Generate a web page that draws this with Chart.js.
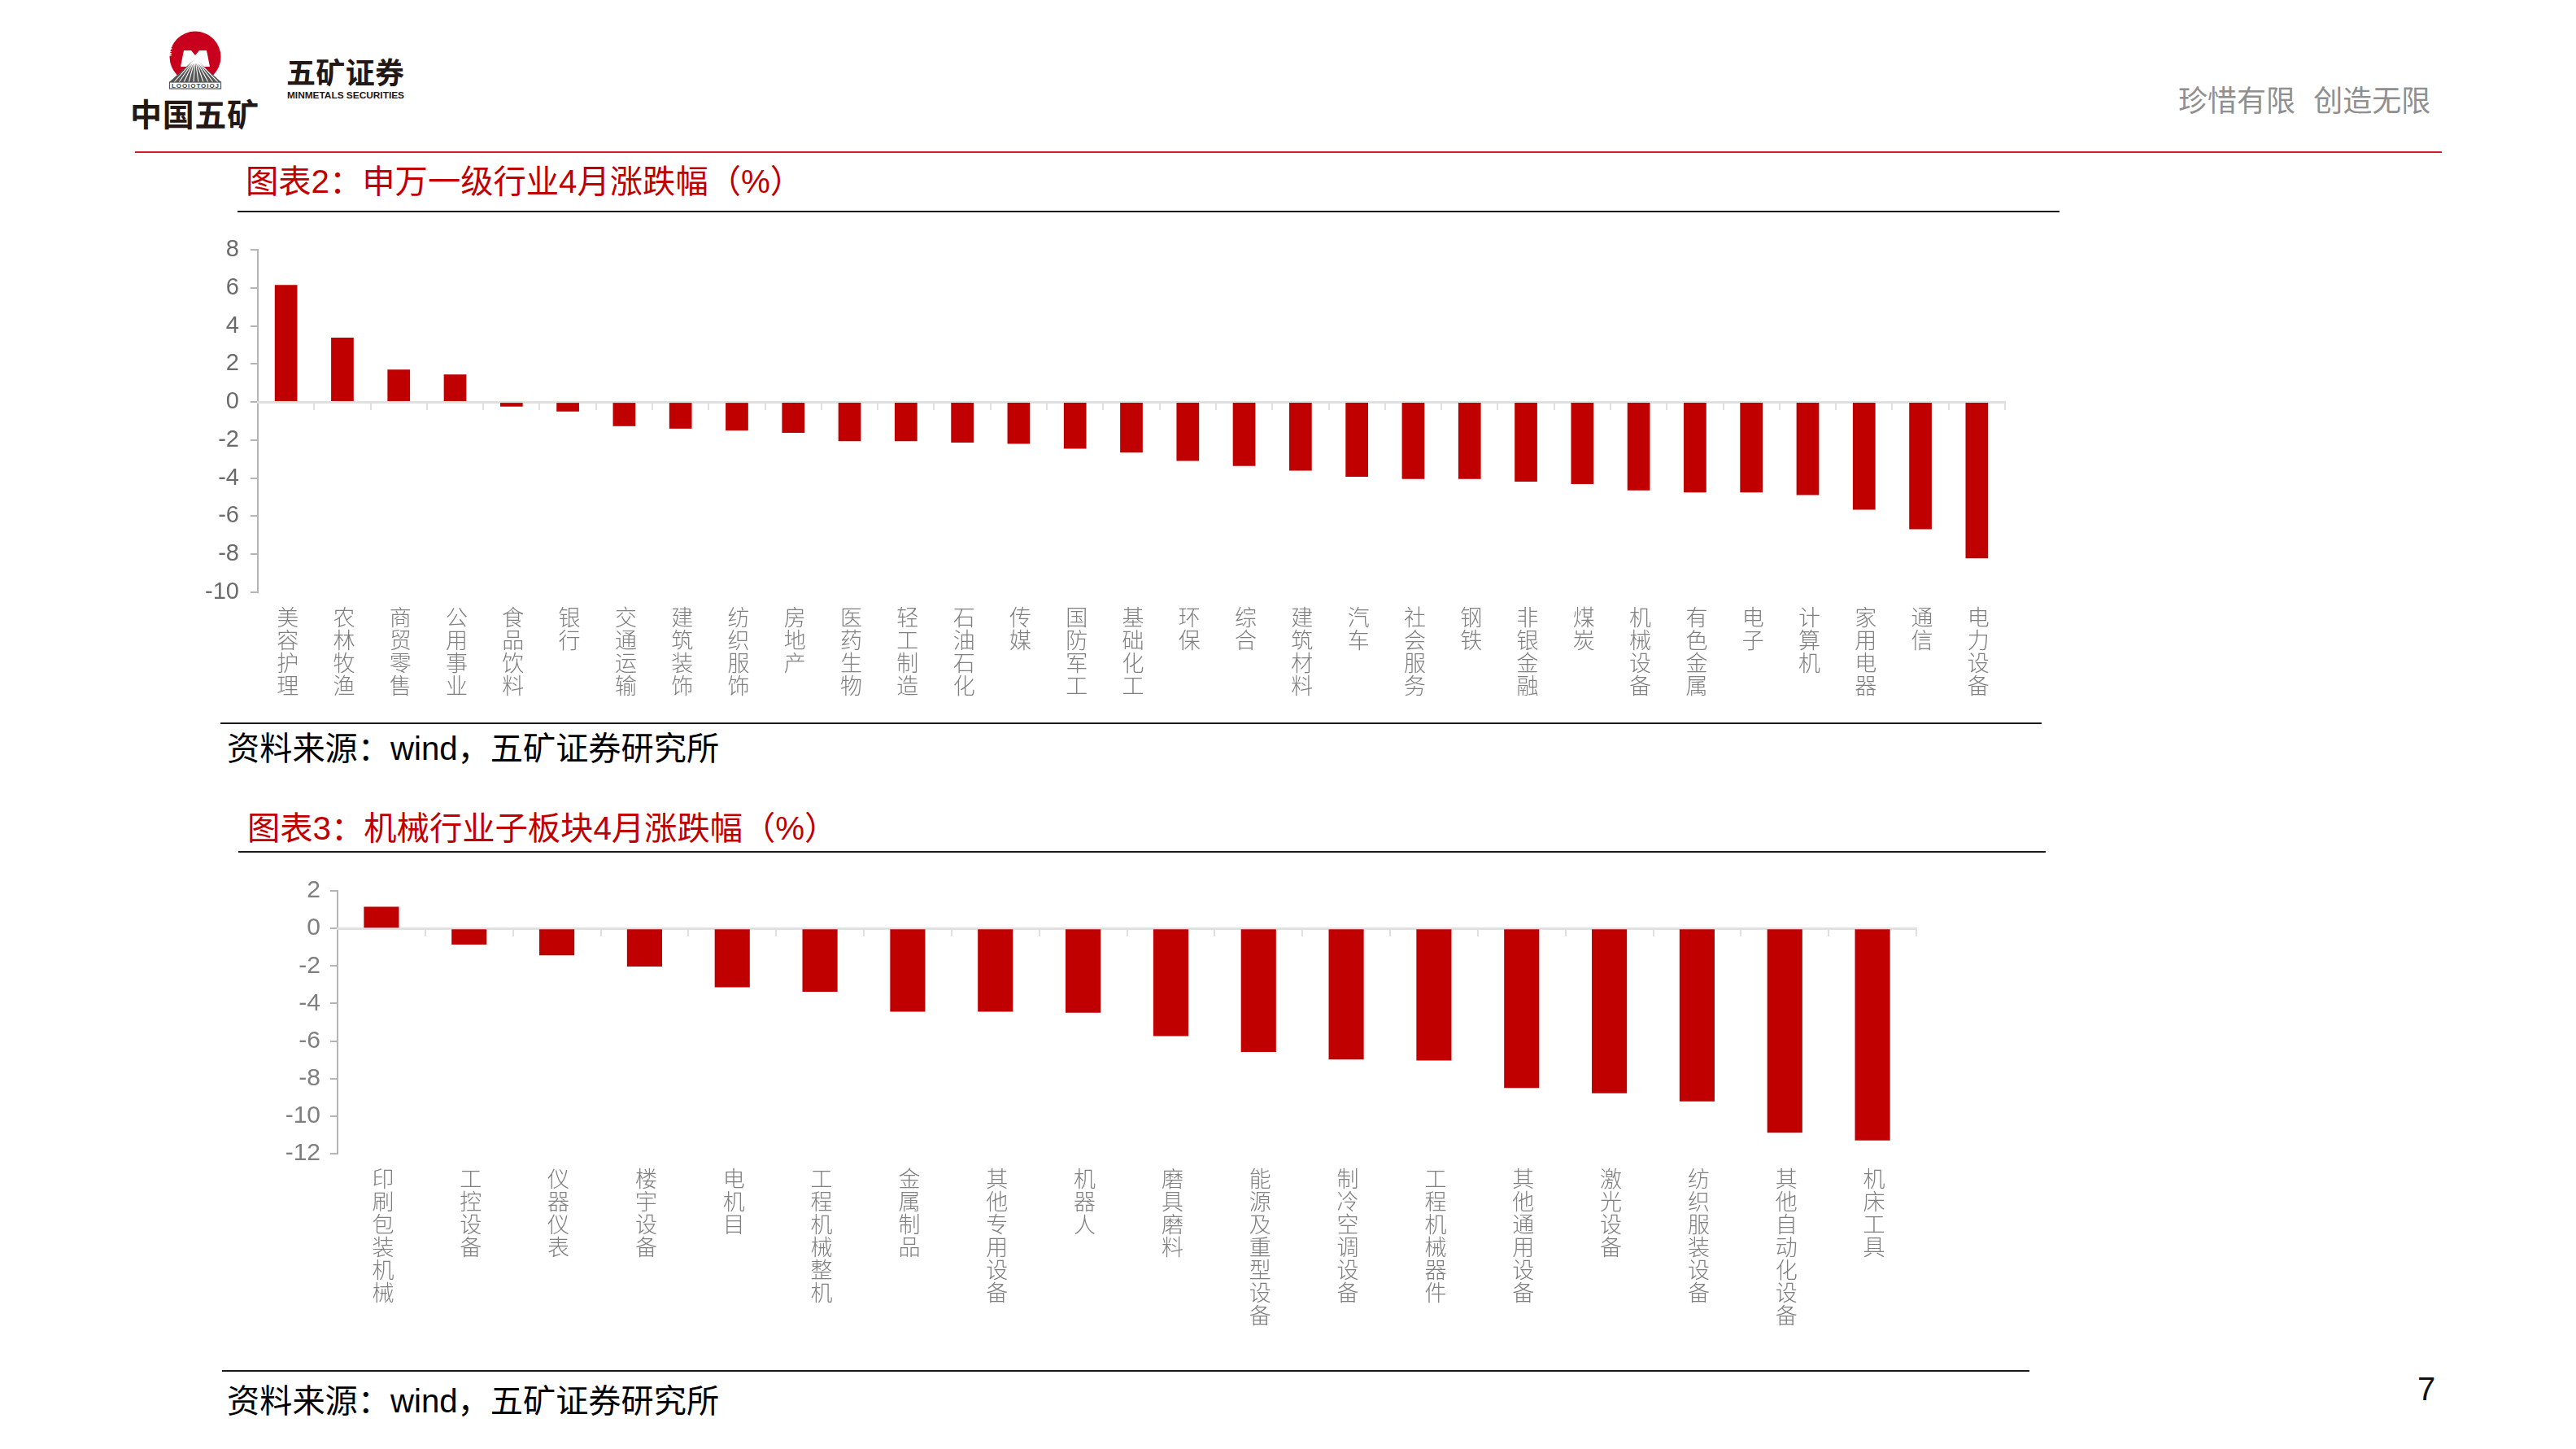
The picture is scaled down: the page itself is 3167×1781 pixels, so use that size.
<!DOCTYPE html>
<html><head><meta charset="utf-8">
<script src="https://cdn.jsdelivr.net/npm/chart.js@4"></script>
<style>
html,body{margin:0;padding:0;background:#fff;width:3167px;height:1781px;overflow:hidden}
body{position:relative;font-family:"Liberation Sans","Noto Sans CJK SC",sans-serif}
.t{position:absolute;white-space:pre;line-height:1}
.l{position:absolute;height:2px}
canvas{position:absolute}
svg{position:absolute;left:0;top:0}
</style></head><body>
<svg width="520" height="180" viewBox="0 0 520 180">
<defs><path id="arc" d="M212 72 A29 29 0 1 1 268 72"/></defs>
<circle cx="240" cy="70" r="31.5" fill="#c8001e"/>
<text font-family="Liberation Sans" font-weight="700" font-size="8" fill="#fff" letter-spacing="1"><textPath href="#arc" startOffset="3%">MINMETALS</textPath></text>
<path d="M226 62 L235 62 L240 68 L245 62 L254 62 L258 82 L222 82 Z" fill="#fff"/>
<path d="M240 72 L272 101 L208 101 Z" fill="#555"/>
<path d="M240 72 L214 101 M240 72 L220 101 M240 72 L226 101 M240 72 L232 101 M240 72 L238 101 M240 72 L244 101 M240 72 L250 101 M240 72 L256 101 M240 72 L262 101 M240 72 L268 101" stroke="#fff" stroke-width="1.1"/>
<rect x="208.5" y="101" width="63" height="8" fill="#fff" stroke="#555" stroke-width="1.2"/>
<text x="240" y="108" text-anchor="middle" font-family="Liberation Sans" font-weight="700" font-size="8" fill="#444" textLength="58">LOOIOTOIOJ</text>
<text x="160" y="155" font-family="Noto Sans CJK SC" font-weight="700" font-size="39" fill="#231815" textLength="158">中国五矿</text>
<text x="352" y="103" font-family="Noto Sans CJK SC" font-weight="700" font-size="36" fill="#231815" textLength="145">五矿证券</text>
<text x="353" y="121" font-family="Liberation Sans" font-weight="700" font-size="11" fill="#231815" textLength="144" lengthAdjust="spacingAndGlyphs">MINMETALS SECURITIES</text>
</svg>
<div class="t" style="left:2678px;top:103px;font-size:36px;word-spacing:3px;color:#8f8f8f;font-family:'Noto Sans CJK SC'">珍惜有限  创造无限</div>
<div class="l" style="left:166px;top:186px;width:2836px;background:#d9192e"></div>

<div class="t" style="left:302px;top:204px;font-size:40.3px;color:#c00000">图表2：申万一级行业4月涨跌幅（%）</div>
<div class="l" style="left:292px;top:259px;width:2240px;background:#1a1a1a"></div>
<canvas id="c1" width="2285" height="600" style="left:200px;top:280px"></canvas>
<div class="l" style="left:271px;top:888px;width:2239px;background:#1a1a1a"></div>
<div class="t" style="left:279px;top:901px;font-size:40.2px;color:#000">资料来源：wind，五矿证券研究所</div>

<div class="t" style="left:304px;top:999px;font-size:40.3px;color:#c00000">图表3：机械行业子板块4月涨跌幅（%）</div>
<div class="l" style="left:293px;top:1046px;width:2222px;background:#1a1a1a"></div>
<canvas id="c2" width="2146" height="600" style="left:230px;top:1068px"></canvas>
<div class="l" style="left:273px;top:1684px;width:2222px;background:#1a1a1a"></div>
<div class="t" style="left:279px;top:1703px;font-size:40.2px;color:#000">资料来源：wind，五矿证券研究所</div>
<div class="t" style="left:2972px;top:1687px;font-size:40px;color:#111">7</div>

<script>
const categories1=["美容护理","农林牧渔","商贸零售","公用事业","食品饮料","银行","交通运输","建筑装饰","纺织服饰","房地产","医药生物","轻工制造","石油石化","传媒","国防军工","基础化工","环保","综合","建筑材料","汽车","社会服务","钢铁","非银金融","煤炭","机械设备","有色金属","电子","计算机","家用电器","通信","电力设备"];
const values1=[6.15,3.38,1.70,1.45,-0.24,-0.5,-1.27,-1.40,-1.50,-1.62,-2.06,-2.06,-2.13,-2.2,-2.45,-2.66,-3.1,-3.36,-3.61,-3.93,-4.05,-4.05,-4.18,-4.31,-4.64,-4.75,-4.75,-4.89,-5.66,-6.69,-8.22];
const categories2=["印刷包装机械","工控设备","仪器仪表","楼宇设备","电机目","工程机械整机","金属制品","其他专用设备","机器人","磨具磨料","能源及重型设备","制冷空调设备","工程机械器件","其他通用设备","激光设备","纺织服装设备","其他自动化设备","机床工具"];
const values2=[1.15,-0.86,-1.44,-2.03,-3.14,-3.38,-4.44,-4.44,-4.49,-5.74,-6.58,-6.98,-7.04,-8.5,-8.78,-9.22,-10.88,-11.3];

function draw(id,cats,vals,yMin,yMax,yW,padTop,xH,yCol,ySize,yPad,lblOff,xSize){
  const labels=cats.map(s=>s.split(''));
  new Chart(document.getElementById(id),{
    type:'bar',
    data:{labels,datasets:[{data:vals,backgroundColor:'#c00000',borderWidth:0,barPercentage:0.4,categoryPercentage:1,xAxisID:'x',yAxisID:'y'}]},
    options:{
      responsive:false,animation:false,devicePixelRatio:1,
      layout:{padding:{top:padTop,right:20,bottom:0,left:0}},
      plugins:{legend:{display:false},title:{display:false},tooltip:{enabled:false}},
      scales:{
        y:{min:yMin,max:yMax,position:'left',
          ticks:{stepSize:2,color:yCol,font:{family:'"Liberation Sans"',size:ySize},padding:yPad},
          grid:{drawOnChartArea:false,drawTicks:true,tickLength:9,color:'#b5b5b5',lineWidth:2},
          border:{color:'#b5b5b5',width:2},
          afterFit(s){s.width=yW;s.paddingTop=0;s.paddingBottom=0;}
        },
        x:{position:{y:0},z:1,offset:true,
          ticks:{display:false},
          grid:{drawOnChartArea:false,drawTicks:true,tickLength:8,color:'#e0e0e0',lineWidth:2,offset:true},
          border:{color:'#e0e0e0',width:3}
        },
        x2:{type:'category',axis:'x',position:'bottom',offset:true,labels,
          grid:{display:false,drawTicks:false},border:{display:false},
          ticks:{autoSkip:false,maxRotation:0,minRotation:0,padding:17,labelOffset:lblOff,color:'#7f7f7f',
            font:{family:'"Noto Sans CJK SC"',size:xSize,weight:'300',lineHeight:'28px'}},
          afterFit(s){s.height=xH;s.paddingLeft=0;s.paddingRight=0;}
        }
      }
    }
  });
}
draw('c1',categories1,values1,-10,8,117,27,152,'#6b6b6b',29,14,2,27);
draw('c2',categories2,values2,-12,2,185,27,250,'#7f7f7f',30,12,2,27);
</script>
</body></html>
